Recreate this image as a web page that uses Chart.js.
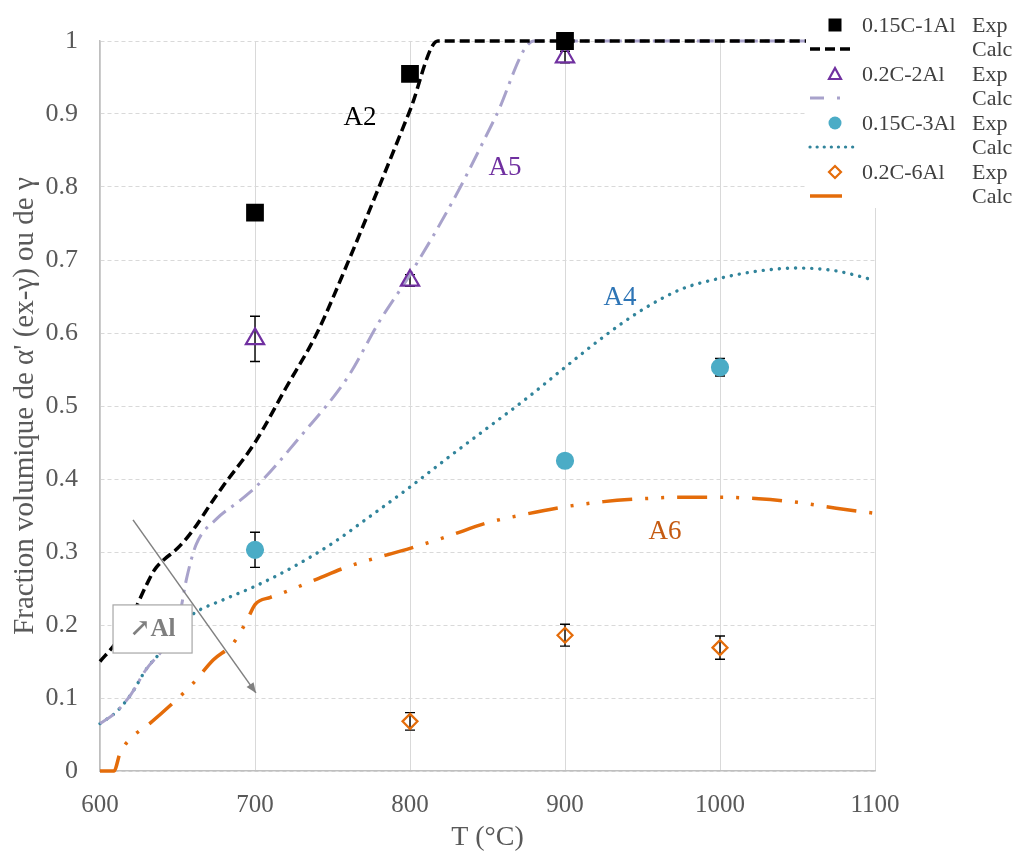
<!DOCTYPE html>
<html>
<head>
<meta charset="utf-8">
<script src="https://cdn.jsdelivr.net/npm/chart.js@4.4.0/dist/chart.umd.min.js"></script>
<style>
  body { margin: 0; background: #fff; }
</style>
</head>
<body>
<canvas id="fracChart" width="1013" height="852"></canvas>
<script>
// --- Daten: Messpunkte (Exp) ---
const a2ExpT = [700, 800, 900];
const a2ExpV = [0.765, 0.955, 1.0];
const a2ExpErr = [0, 0, 0];

const a5ExpT = [700, 800, 900];
const a5ExpV = [0.592, 0.672, 0.978];
const a5ExpErr = [0.031, 0.008, 0.008];

const a4ExpT = [700, 900, 1000];
const a4ExpV = [0.303, 0.425, 0.553];
const a4ExpErr = [0.024, 0.007, 0.012];

const a6ExpT = [800, 900, 1000];
const a6ExpV = [0.068, 0.186, 0.169];
const a6ExpErr = [0.012, 0.015, 0.016];

// --- Daten: Berechnung (Calc) ---
const a2CalcT = [600, 610, 620, 630, 635, 641, 650, 660, 673, 680, 700, 720, 740, 760, 780, 800, 818, 900, 1000, 1100];
const a2CalcV = [0.15, 0.175, 0.21, 0.255, 0.275, 0.289, 0.305, 0.33, 0.371, 0.392, 0.45, 0.525, 0.6, 0.697, 0.8, 0.905, 1, 1, 1, 1];

const a5CalcT = [600, 610, 620, 630, 640, 650, 656, 662, 675, 690, 700, 730, 760, 780, 800, 830, 855, 880, 900, 1000, 1100];
const a5CalcV = [0.065, 0.08, 0.105, 0.14, 0.165, 0.2, 0.265, 0.31, 0.345, 0.37, 0.388, 0.46, 0.54, 0.615, 0.68, 0.79, 0.895, 1, 1, 1, 1];

const a4CalcT = [600, 610, 620, 630, 640, 650, 660, 680, 700, 725, 750, 775, 800, 825, 850, 875, 900, 925, 950, 975, 1000, 1025, 1050, 1075, 1100];
const a4CalcV = [0.065, 0.08, 0.105, 0.14, 0.165, 0.195, 0.215, 0.235, 0.253, 0.28, 0.312, 0.35, 0.389, 0.43, 0.47, 0.51, 0.553, 0.595, 0.632, 0.66, 0.675, 0.685, 0.689, 0.685, 0.672];

const a6CalcT = [600, 609, 613, 620, 632, 647, 660, 673, 686, 695, 700, 710, 718, 740, 760, 780, 800, 825, 850, 875, 900, 925, 950, 975, 1000, 1025, 1050, 1075, 1100];
const a6CalcV = [0, 0, 0.025, 0.045, 0.065, 0.093, 0.12, 0.152, 0.175, 0.207, 0.228, 0.238, 0.244, 0.263, 0.28, 0.293, 0.305, 0.322, 0.34, 0.352, 0.362, 0.369, 0.373, 0.375, 0.375, 0.373, 0.368, 0.36, 0.353];

const xTicks = [600, 700, 800, 900, 1000, 1100];
const yTicks = [0, 0.1, 0.2, 0.3, 0.4, 0.5, 0.6, 0.7, 0.8, 0.9, 1];

// Farben
const cBlack = '#000000';
const cLav = '#a8a2cb';
const cPurple = '#7030a0';
const cCyan = '#4bacc6';
const cTeal = '#31849b';
const cOrange = '#e46c0a';

const serif = '"Liberation Serif", "DejaVu Serif", serif';

const toXY = (ts, vs) => ts.map((t, i) => ({ x: t, y: vs[i] }));

const errSeries = [
  { t: a5ExpT, v: a5ExpV, err: a5ExpErr },
  { t: a4ExpT, v: a4ExpV, err: a4ExpErr },
  { t: a6ExpT, v: a6ExpV, err: a6ExpErr },
  { t: a2ExpT, v: a2ExpV, err: a2ExpErr }
];

// Beschriftungen der Kurven
const curveLabels = [
  { text: 'A2', x: 767.7, y: 0.895, color: '#000000' },
  { text: 'A5', x: 861.3, y: 0.826, color: '#7030a0' },
  { text: 'A4', x: 935.5, y: 0.648, color: '#2e75b6' },
  { text: 'A6', x: 964.5, y: 0.327, color: '#c55a11' }
];

// Legende
const legendItems = [
  { name: '0.15C-1Al', marker: 'square', color: cBlack, line: { color: cBlack, dash: [10, 5], width: 3.5, end: 855 } },
  { name: '0.2C-2Al', marker: 'triangle', color: cPurple, line: { color: cLav, dash: [14, 13, 3, 40], width: 3, end: 845 } },
  { name: '0.15C-3Al', marker: 'circle', color: cCyan, line: { color: cTeal, dash: [0.1, 7], width: 3.2, round: true, end: 855 } },
  { name: '0.2C-6Al', marker: 'diamond', color: cOrange, line: { color: cOrange, dash: [], width: 3.5, end: 842 } }
];

const errorBarPlugin = {
  id: 'errorBars',
  beforeDatasetsDraw(chart) {
    const { ctx, scales: { x, y } } = chart;
    ctx.save();
    ctx.strokeStyle = '#000';
    ctx.lineWidth = 1.4;
    errSeries.forEach(s => {
      s.t.forEach((t, i) => {
        const e = s.err[i];
        if (!e) return;
        const px = x.getPixelForValue(t);
        const top = y.getPixelForValue(s.v[i] + e);
        const bot = y.getPixelForValue(s.v[i] - e);
        ctx.beginPath();
        ctx.moveTo(px, top); ctx.lineTo(px, bot);
        ctx.moveTo(px - 5, top); ctx.lineTo(px + 5, top);
        ctx.moveTo(px - 5, bot); ctx.lineTo(px + 5, bot);
        ctx.stroke();
      });
    });
    ctx.restore();
  }
};

function drawMarker(ctx, type, color, cx, cy) {
  ctx.save();
  ctx.lineWidth = 2.2;
  ctx.strokeStyle = color;
  ctx.fillStyle = color;
  ctx.beginPath();
  if (type === 'square') {
    ctx.rect(cx - 6.5, cy - 6.5, 13, 13);
    ctx.fill();
  } else if (type === 'circle') {
    ctx.arc(cx, cy, 6.5, 0, Math.PI * 2);
    ctx.fill();
  } else if (type === 'triangle') {
    ctx.moveTo(cx, cy - 6);
    ctx.lineTo(cx + 6, cy + 5);
    ctx.lineTo(cx - 6, cy + 5);
    ctx.closePath();
    ctx.stroke();
  } else if (type === 'diamond') {
    ctx.moveTo(cx, cy - 6);
    ctx.lineTo(cx + 6, cy);
    ctx.lineTo(cx, cy + 6);
    ctx.lineTo(cx - 6, cy);
    ctx.closePath();
    ctx.stroke();
  }
  ctx.restore();
}

const overlayPlugin = {
  id: 'overlay',
  afterDatasetsDraw(chart) {
    const { ctx, scales: { x, y } } = chart;

    // Kurvennamen
    ctx.save();
    ctx.font = '27px ' + serif;
    ctx.textAlign = 'center';
    ctx.textBaseline = 'middle';
    curveLabels.forEach(l => {
      ctx.fillStyle = l.color;
      ctx.fillText(l.text, x.getPixelForValue(l.x), y.getPixelForValue(l.y));
    });
    ctx.restore();

    // Kasten "↗Al"
    const bx1 = x.getPixelForValue(608.4), bx2 = x.getPixelForValue(659.4);
    const by1 = y.getPixelForValue(0.2275), by2 = y.getPixelForValue(0.1616);
    ctx.save();
    ctx.fillStyle = '#ffffff';
    ctx.strokeStyle = '#a6a6a6';
    ctx.lineWidth = 1.2;
    ctx.fillRect(bx1, by1, bx2 - bx1, by2 - by1);
    ctx.strokeRect(bx1, by1, bx2 - bx1, by2 - by1);
    ctx.fillStyle = '#7f7f7f';
    ctx.font = 'bold 25px ' + serif;
    ctx.textAlign = 'center';
    ctx.textBaseline = 'middle';
    ctx.fillText('↗Al', (bx1 + bx2) / 2, (by1 + by2) / 2 + 1);

    // Pfeil
    const ax1 = x.getPixelForValue(621.3), ay1 = y.getPixelForValue(0.344);
    const ax2 = x.getPixelForValue(700.6), ay2 = y.getPixelForValue(0.107);
    ctx.strokeStyle = '#808080';
    ctx.fillStyle = '#808080';
    ctx.lineWidth = 1.5;
    ctx.beginPath();
    ctx.moveTo(ax1, ay1);
    ctx.lineTo(ax2, ay2);
    ctx.stroke();
    const ang = Math.atan2(ay2 - ay1, ax2 - ax1);
    ctx.beginPath();
    ctx.moveTo(ax2, ay2);
    ctx.lineTo(ax2 - 11 * Math.cos(ang - 0.4), ay2 - 11 * Math.sin(ang - 0.4));
    ctx.lineTo(ax2 - 11 * Math.cos(ang + 0.4), ay2 - 11 * Math.sin(ang + 0.4));
    ctx.closePath();
    ctx.fill();
    ctx.restore();
  },
  afterDraw(chart) {
    const ctx = chart.ctx;
    ctx.save();
    ctx.fillStyle = '#ffffff';
    ctx.fillRect(806, 6, 207, 202);
    ctx.font = '22px ' + serif;
    ctx.textBaseline = 'middle';
    legendItems.forEach((it, i) => {
      const yExp = 25 + i * 49;
      const yCalc = yExp + 24;
      drawMarker(ctx, it.marker, it.color, 835, yExp);
      ctx.fillStyle = '#404040';
      ctx.fillText(it.name, 862, yExp + 1);
      ctx.fillText('Exp', 972, yExp + 1);
      ctx.fillText('Calc', 972, yCalc + 1);
      ctx.save();
      ctx.strokeStyle = it.line.color;
      ctx.lineWidth = it.line.width;
      ctx.lineCap = it.line.round ? 'round' : 'butt';
      ctx.setLineDash(it.line.dash);
      ctx.beginPath();
      ctx.moveTo(810, yCalc);
      ctx.lineTo(it.line.end, yCalc);
      ctx.stroke();
      ctx.restore();
    });
    ctx.restore();
  }
};

const calcLine = (ts, vs, color, dash, width, round) => ({
  type: 'line',
  data: toXY(ts, vs),
  borderColor: color,
  borderWidth: width,
  borderDash: dash,
  borderCapStyle: round ? 'round' : 'butt',
  pointRadius: 0,
  fill: false,
  cubicInterpolationMode: 'monotone',
  clip: 4
});

const expPoints = (ts, vs, style, color, fill, radius) => ({
  type: 'scatter',
  data: toXY(ts, vs),
  pointStyle: style,
  pointRadius: radius,
  pointBorderColor: color,
  pointBackgroundColor: fill,
  pointBorderWidth: 2.2,
  showLine: false,
  clip: false
});

new Chart(document.getElementById('fracChart'), {
  data: {
    datasets: [
      expPoints(a2ExpT, a2ExpV, 'rect', cBlack, cBlack, 11),
      expPoints(a5ExpT, a5ExpV, 'triangle', cPurple, 'rgba(0,0,0,0)', 10.5),
      expPoints(a4ExpT, a4ExpV, 'circle', cCyan, cCyan, 8),
      expPoints(a6ExpT, a6ExpV, 'rectRot', cOrange, 'rgba(0,0,0,0)', 7.5),
      calcLine(a2CalcT, a2CalcV, cBlack, [10, 5], 3.5, false),
      calcLine(a5CalcT, a5CalcV, cLav, [17, 7, 3, 7], 3, false),
      calcLine(a4CalcT, a4CalcV, cTeal, [0.1, 8], 3.4, true),
      calcLine(a6CalcT, a6CalcV, cOrange, [30, 13, 3, 13, 3, 13], 3.5, false)
    ]
  },
  options: {
    responsive: false,
    animation: false,
    layout: { padding: { top: 41, right: 138, left: 0, bottom: 0 } },
    plugins: {
      legend: { display: false },
      tooltip: { enabled: false }
    },
    scales: {
      x: {
        type: 'linear',
        min: 600,
        max: 1100,
        afterFit: s => { s.height = 81; },
        afterBuildTicks: s => { s.ticks = xTicks.map(v => ({ value: v })); },
        ticks: {
          padding: 19,
          color: '#595959',
          font: { family: serif, size: 25 },
          callback: v => String(v)
        },
        grid: { color: '#d9d9d9', lineWidth: 1, drawTicks: false },
        border: { color: '#bfbfbf', width: 1.5 },
        title: {
          display: true,
          text: 'T (°C)',
          color: '#595959',
          font: { family: serif, size: 28, lineHeight: 1 },
          padding: { top: 0, bottom: 0 }
        }
      },
      y: {
        type: 'linear',
        min: 0,
        max: 1,
        afterFit: s => { s.width = 100; },
        afterBuildTicks: s => { s.ticks = yTicks.map(v => ({ value: v })); },
        ticks: {
          padding: 22,
          color: '#595959',
          font: { family: serif, size: 26 },
          callback: v => String(+v.toFixed(1))
        },
        grid: { color: '#d9d9d9', lineWidth: 1, drawTicks: false },
        border: { color: '#bfbfbf', width: 1.5, dash: [4, 3] },
        title: {
          display: true,
          text: "Fraction volumique de α' (ex-γ) ou de γ",
          color: '#595959',
          font: { family: serif, size: 29, lineHeight: 1 },
          padding: { top: 11, bottom: 0 }
        }
      }
    }
  },
  plugins: [errorBarPlugin, overlayPlugin]
});
</script>
</body>
</html>
